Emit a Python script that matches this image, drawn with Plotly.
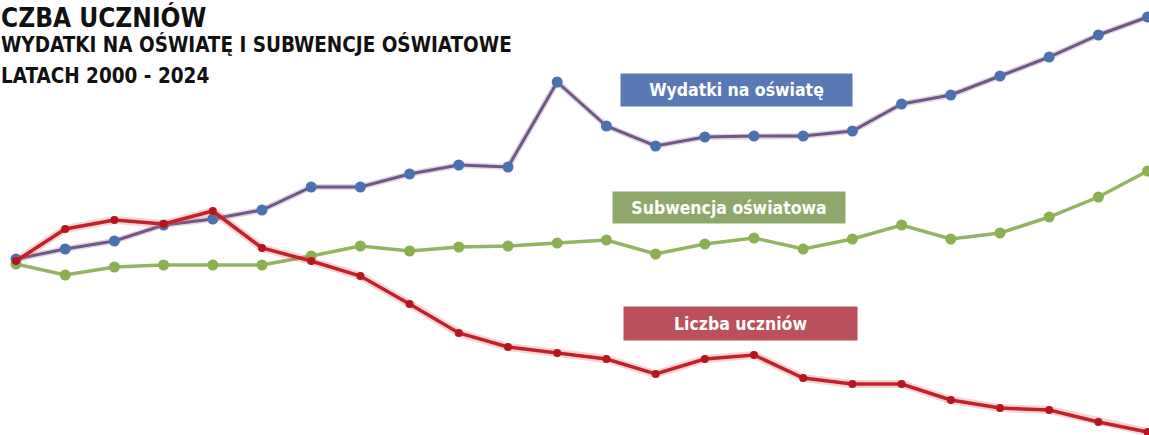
import plotly.graph_objects as go

# Years shown (x axis)
years = list(range(2000, 2024))

# Relative levels (arbitrary units, 2000 ≈ 100)
wydatki = [101, 106, 110, 118, 121, 125.5, 137, 137, 143.5, 148, 147, 189.5,
           167.5, 157.5, 162, 162.5, 162.5, 165, 178.5, 183, 192.5, 202, 213, 222]
subwencja = [98.5, 93, 97, 98, 98, 98, 102.5, 107.5, 105, 107, 107.5, 109,
             110.5, 103.5, 108.5, 111.5, 106, 111, 118, 111, 114, 122, 132, 145]
uczniowie = [100, 116, 120.5, 118.5, 125, 106.5, 100, 92.5, 78.5, 64, 57, 54,
             51, 43.5, 51, 53, 41.5, 38.5, 38.5, 30.5, 26.5, 25.5, 19.5, 14.5]

title_lines = ["CZBA UCZNIÓW",
               "WYDATKI NA OŚWIATĘ I SUBWENCJE OŚWIATOWE",
               "LATACH 2000 - 2024"]
series_labels = ["Wydatki na oświatę", "Subwencja oświatowa", "Liczba uczniów"]

W, H = 1149, 435
TITLE_FONT = "DejaVu Sans Condensed, Liberation Sans Narrow, Arial Narrow, sans-serif"
LABEL_FONT = "DejaVu Sans Condensed, Liberation Sans Narrow, Arial Narrow, sans-serif"

fig = go.Figure()

# Subwencja (green)
fig.add_trace(go.Scatter(
    x=years, y=subwencja, mode="lines+markers",
    line=dict(color="#93b462", width=3.5),
    marker=dict(color="#8bb052", size=11),
    hoverinfo="skip", showlegend=False, cliponaxis=False))

# Wydatki (purple line, blue markers)
fig.add_trace(go.Scatter(
    x=years, y=wydatki, mode="lines",
    line=dict(color="rgba(150,120,170,0.30)", width=6),
    hoverinfo="skip", showlegend=False))
fig.add_trace(go.Scatter(
    x=years, y=wydatki, mode="lines+markers",
    line=dict(color="#6f5883", width=3),
    marker=dict(color="#4a72b2", size=11),
    hoverinfo="skip", showlegend=False, cliponaxis=False))

# Liczba uczniów (red with glow)
fig.add_trace(go.Scatter(
    x=years, y=uczniowie, mode="lines",
    line=dict(color="rgba(240,80,80,0.25)", width=8),
    hoverinfo="skip", showlegend=False))
fig.add_trace(go.Scatter(
    x=years, y=uczniowie, mode="lines+markers",
    line=dict(color="#c0222b", width=3.5),
    marker=dict(color="#b8141e", size=8),
    hoverinfo="skip", showlegend=False, cliponaxis=False))

def px_x(p):
    return p / W

def px_y(p):
    return 1 - p / H

annotations = []
# Title lines
title_specs = [(title_lines[0], 26, 17), (title_lines[1], 20.5, 44), (title_lines[2], 20.5, 76)]
for text, size, cy in title_specs:
    annotations.append(dict(
        text=text, xref="paper", yref="paper", x=px_x(-1), y=px_y(cy),
        xanchor="left", yanchor="middle", showarrow=False,
        font=dict(family=TITLE_FONT, size=size, color="#111111", weight="bold")))

# Label boxes
boxes = [
    (series_labels[0], "#5a79b4", 736.5, 90, 231, 32),
    (series_labels[1], "#8ea86c", 729, 207.5, 232, 31),
    (series_labels[2], "#b9505a", 740.5, 323.5, 233, 33),
]
for text, color, cx, cy, bw, bh in boxes:
    annotations.append(dict(
        text=text, xref="paper", yref="paper", x=px_x(cx), y=px_y(cy),
        xanchor="center", yanchor="middle", showarrow=False,
        width=bw, height=bh, bgcolor=color, borderpad=0, align="center",
        valign="middle",
        font=dict(family=LABEL_FONT, size=17.5, color="white", weight="bold")))

fig.update_layout(
    width=W, height=H,
    margin=dict(l=0, r=0, t=0, b=0),
    paper_bgcolor="white", plot_bgcolor="white",
    xaxis=dict(range=[1999.6748, 2023.0285], visible=False, showgrid=False, zeroline=False),
    yaxis=dict(range=[13, 230.5], visible=False, showgrid=False, zeroline=False),
    annotations=annotations,
    showlegend=False,
)

fig.write_html("out.html", config={"displayModeBar": False},
               post_script="document.body.style.margin='0';")
